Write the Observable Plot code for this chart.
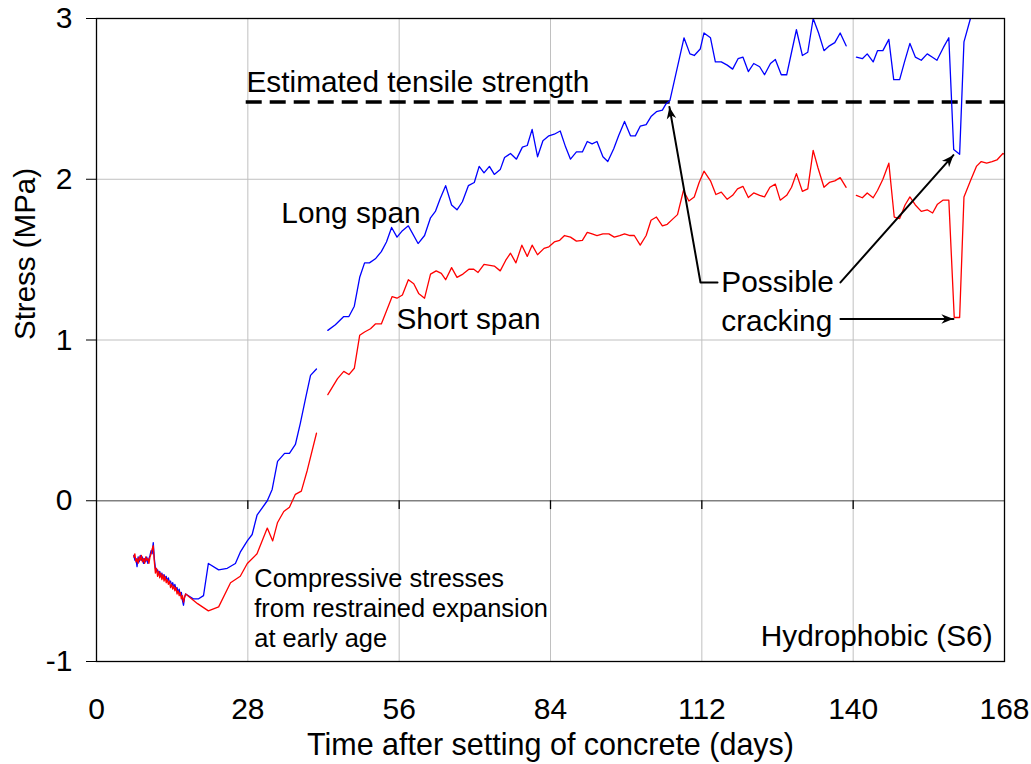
<!DOCTYPE html>
<html><head><meta charset="utf-8">
<script src="https://cdn.jsdelivr.net/npm/d3@7"></script>
<script src="https://cdn.jsdelivr.net/npm/@observablehq/plot@0.6"></script>
<style>body{margin:0;background:#fff;font-family:"Liberation Sans",Arial,sans-serif}</style>
</head><body><div id="chart"></div>
<script>
// ---- data ----
const xTicks = [0, 28, 56, 84, 112, 140, 168];
const yTicks = [-1, 0, 1, 2, 3];
const xLabel = "Time after setting of concrete (days)";
const yLabel = "Stress (MPa)";
const tensileStrength = 2.48;
const tensileStart = 27.7;

// [day, stress MPa]; NaN marks a gap in the record
const longSpan = [
[6.9,-0.34],[7.1,-0.37],[7.3,-0.36],[7.5,-0.41],[7.7,-0.35],[7.9,-0.38],[8.1,-0.34],[8.3,-0.37],[8.5,-0.35],[8.7,-0.39],
[8.9,-0.36],[9.1,-0.38],[9.3,-0.35],[9.5,-0.39],[9.7,-0.36],[9.9,-0.34],[10.1,-0.31],[10.3,-0.33],[10.5,-0.26],[10.7,-0.36],
[10.9,-0.42],[11.1,-0.44],[11.3,-0.43],[11.5,-0.46],[11.7,-0.44],[11.9,-0.47],[12.1,-0.45],[12.3,-0.48],[12.5,-0.46],[12.7,-0.49],
[12.9,-0.47],[13.1,-0.50],[13.3,-0.48],[13.5,-0.51],[13.7,-0.50],[13.9,-0.53],[14.1,-0.51],[14.3,-0.54],[14.5,-0.52],[14.7,-0.55],
[14.9,-0.54],[15.1,-0.57],[15.3,-0.55],[15.5,-0.59],[15.7,-0.57],[15.9,-0.62],[16.1,-0.65],[16.3,-0.60],[16.5,-0.58],
[17.9,-0.61],[18.9,-0.61],[19.8,-0.59],[20.7,-0.39],[22.6,-0.43],[24.2,-0.42],[25.7,-0.39],[26.6,-0.32],[27.9,-0.25],[28.8,-0.21],
[29.7,-0.09],[31.6,0.0],[32.5,0.07],[33.5,0.245],[34.8,0.295],[35.7,0.295],[36.8,0.35],[37.7,0.48],[38.7,0.64],[39.6,0.78],[40.7,0.82],
[41.7,NaN],
[42.8,1.06],[44.2,1.095],[45.75,1.146],[46.7,1.146],[47.7,1.21],[48.7,1.39],[49.6,1.48],[50.5,1.48],[51.6,1.505],[52.7,1.55],
[53.65,1.61],[54.6,1.70],[55.6,1.64],[56.6,1.68],[57.7,1.71],[59.5,1.60],[60.7,1.65],[61.8,1.76],[62.7,1.80],[63.6,1.88],
[64.6,1.96],[65.7,1.84],[66.7,1.81],[67.7,1.86],[68.8,1.96],[69.9,1.98],[70.8,2.08],[71.7,2.04],[72.7,2.08],[73.6,2.03],
[74.7,2.06],[75.5,2.135],[76.6,2.16],[77.7,2.125],[78.8,2.20],[79.7,2.21],[80.6,2.31],[81.6,2.14],[82.6,2.24],[83.7,2.27],
[84.7,2.28],[85.8,2.30],[86.8,2.20],[87.7,2.125],[88.8,2.17],[89.9,2.17],[90.8,2.235],[91.7,2.22],[92.6,2.235],[93.7,2.14],
[94.6,2.11],[95.7,2.19],[96.6,2.27],[97.7,2.36],[98.8,2.27],[99.7,2.27],[100.6,2.33],[101.7,2.34],[102.6,2.39],[103.6,2.42],
[104.7,2.43],[105.4,2.47],[106.1,2.49],[108.7,2.88],[109.8,2.78],[110.6,2.77],[111.7,2.81],[112.4,2.91],[113.6,2.88],[114.5,2.73],
[115.6,2.73],[116.7,2.71],[117.7,2.685],[118.7,2.75],[119.6,2.76],[120.6,2.67],[121.6,2.72],[122.7,2.70],[123.6,2.65],[124.7,2.72],
[125.6,2.745],[126.7,2.65],[127.7,2.65],[128.6,2.79],[129.5,2.93],[130.6,2.77],[131.6,2.79],[132.6,3.0],[133.6,2.91],[134.6,2.80],
[135.6,2.83],[136.6,2.85],[137.6,2.91],[138.7,2.83],
[139.6,NaN],
[140.6,2.76],[141.7,2.75],[142.6,2.78],[143.7,2.73],[144.5,2.80],[145.5,2.80],[146.6,2.87],[147.5,2.62],[148.6,2.62],[149.5,2.73],
[150.5,2.845],[151.5,2.76],[152.6,2.74],[153.7,2.78],[154.6,2.76],[155.5,2.74],[156.7,2.82],[157.7,2.88],[158.6,2.185],[159.7,2.155],
[160.5,2.855],[161.7,3.0]
];

const shortSpan = [
[6.9,-0.35],[7.1,-0.33],[7.3,-0.38],[7.5,-0.36],[7.7,-0.39],[7.9,-0.35],[8.1,-0.37],[8.3,-0.34],[8.5,-0.38],[8.7,-0.36],
[8.9,-0.39],[9.1,-0.35],[9.3,-0.37],[9.5,-0.36],[9.7,-0.39],[9.9,-0.35],[10.1,-0.33],[10.3,-0.30],[10.5,-0.28],[10.7,-0.38],
[10.9,-0.45],[11.1,-0.42],[11.3,-0.47],[11.5,-0.44],[11.7,-0.48],[11.9,-0.45],[12.1,-0.49],[12.3,-0.46],[12.5,-0.50],[12.7,-0.47],
[12.9,-0.51],[13.1,-0.49],[13.3,-0.52],[13.5,-0.50],[13.7,-0.54],[13.9,-0.52],[14.1,-0.55],[14.3,-0.53],[14.5,-0.56],[14.7,-0.54],
[14.9,-0.58],[15.1,-0.56],[15.3,-0.59],[15.5,-0.57],[15.7,-0.61],[15.9,-0.59],[16.1,-0.63],[16.3,-0.60],[16.5,-0.58],
[18.7,-0.64],[20.7,-0.685],[22.6,-0.66],[24.8,-0.51],[26.6,-0.47],[27.9,-0.39],[29.7,-0.33],[31.6,-0.17],[32.6,-0.25],[33.5,-0.135],
[34.65,-0.067],[35.7,-0.04],[36.8,0.04],[37.9,0.06],[39.0,0.19],[40.7,0.42],
[41.7,NaN],
[42.8,0.66],[44.6,0.76],[45.75,0.805],[46.7,0.785],[47.7,0.824],[48.7,1.03],[49.6,1.05],[50.7,1.07],[51.6,1.10],[52.7,1.10],
[53.65,1.18],[54.7,1.27],[55.6,1.26],[56.6,1.28],[57.7,1.375],[58.7,1.35],[59.6,1.29],[60.7,1.26],[61.8,1.41],[62.85,1.43],
[63.8,1.415],[64.6,1.375],[65.7,1.45],[66.7,1.39],[67.8,1.41],[68.9,1.44],[69.8,1.44],[70.6,1.42],[71.7,1.47],[73.6,1.46],
[74.7,1.43],[75.7,1.495],[76.6,1.54],[77.6,1.48],[78.7,1.59],[79.7,1.52],[80.6,1.59],[81.6,1.53],[82.8,1.57],[83.7,1.58],
[84.7,1.61],[85.7,1.62],[86.6,1.65],[87.7,1.64],[88.8,1.615],[89.9,1.62],[90.8,1.67],[91.7,1.66],[92.6,1.65],[93.7,1.66],
[94.8,1.66],[95.8,1.64],[96.8,1.65],[97.7,1.66],[98.7,1.65],[99.5,1.65],[100.6,1.59],[101.7,1.65],[102.6,1.745],[103.6,1.765],
[104.7,1.71],[105.6,1.72],[106.7,1.755],[107.5,1.78],[108.6,1.93],[109.6,1.865],[110.6,1.89],[111.5,1.98],[112.4,2.05],[113.6,1.99],
[114.6,1.905],[115.6,1.92],[116.7,1.875],[117.7,1.90],[118.6,1.94],[119.6,1.956],[120.6,1.886],[121.6,1.915],[122.7,1.90],[123.6,1.89],
[124.6,1.95],[125.6,1.97],[126.5,1.87],[127.7,1.90],[128.6,1.95],[129.5,2.035],[130.6,1.925],[131.6,1.94],[132.6,2.18],[133.5,2.07],
[134.6,1.95],[135.6,1.98],[136.6,1.99],[137.6,2.01],[138.7,1.95],
[139.6,NaN],
[140.6,1.90],[141.7,1.885],[142.6,1.915],[143.7,1.885],[144.5,1.93],[145.5,2.00],[146.6,2.10],[147.6,1.765],[148.6,1.755],[149.6,1.84],
[150.5,1.89],[151.5,1.84],[152.6,1.80],[153.7,1.81],[154.7,1.79],[155.6,1.845],[156.6,1.87],[157.7,1.87],[158.7,1.14],[159.7,1.14],
[160.5,1.89],[161.7,1.99],[162.8,2.08],[163.7,2.11],[164.7,2.10],[165.7,2.11],[166.6,2.12],[167.7,2.16],[168.2,2.155]
];

// annotation texts: [text, day, stress]
const largeLabels = [
  ["Estimated tensile strength", 27.75, 2.60],
  ["Long span", 34.2, 1.79],
  ["Short span", 55.5, 1.125],
  ["Possible", 115.6, 1.356],
  ["cracking", 115.6, 1.113]
];
const smallLabels = [
  ["Compressive stresses", 29.2, -0.486],
  ["from restrained expansion", 29.2, -0.673],
  ["at early age", 29.2, -0.86]
];
const cornerLabels = [
  ["Hydrophobic (S6)", 165.8, -0.847]
];
// leader lines with arrowheads: [id, day, stress]
const leaders = [
  [1, 114.9, 1.358], [1, 111.75, 1.358], [1, 106.0, 2.45],
  [2, 137.65, 1.358], [2, 158.55, 2.15],
  [3, 137.65, 1.131], [3, 158.55, 1.131]
];

// ---- chart ----
const toRows = (arr) => arr.map(([day, stress]) => ({day, stress}));
const font = '"Liberation Sans", Arial, sans-serif';
const txt = {x: d => d[1], y: d => d[2], text: d => d[0], lineAnchor: "middle", fill: "#000"};

const chart = Plot.plot({
  width: 1031, height: 764,
  marginLeft: 96, marginRight: 27, marginTop: 18, marginBottom: 103,
  style: {fontFamily: font, fontSize: "30px", color: "#000", background: "#fff", overflow: "visible"},
  x: {domain: [0, 168], ticks: xTicks, tickSize: 0, tickPadding: 36, label: null, tickFormat: d => String(d)},
  y: {domain: [-1, 3], ticks: yTicks, tickSize: 10, tickPadding: 14, label: null, tickFormat: d => String(d)},
  marks: [
    Plot.ruleX(xTicks.slice(1, -1), {stroke: "#c0c0c0", strokeWidth: 1}),
    Plot.ruleY(yTicks.filter(v => v > 0 && v < 3), {stroke: "#c0c0c0", strokeWidth: 1}),
    Plot.ruleY([0], {stroke: "#808080", strokeWidth: 1.5}),
    Plot.ruleX(xTicks.slice(1, -1), {y1: 0, y2: -0.055, stroke: "#000", strokeWidth: 1.3}),
    Plot.ruleY([tensileStrength], {x1: tensileStart, x2: 168, stroke: "#000", strokeWidth: 3.5, strokeDasharray: "16,8"}),
    Plot.line(toRows(longSpan), {x: "day", y: "stress", stroke: "#0000ff", strokeWidth: 1.3, clip: true}),
    Plot.line(toRows(shortSpan), {x: "day", y: "stress", stroke: "#ff0000", strokeWidth: 1.3, clip: true}),
    Plot.line(leaders, {x: d => d[1], y: d => d[2], z: d => d[0], stroke: "#000", strokeWidth: 2, markerEnd: "arrow"}),
    Plot.text(largeLabels, {...txt, textAnchor: "start", fontSize: 29.8}),
    Plot.text(smallLabels, {...txt, textAnchor: "start", fontSize: 25.4}),
    Plot.text(cornerLabels, {...txt, textAnchor: "end", fontSize: 29.8}),
    Plot.text([xLabel], {frameAnchor: "bottom", dy: 84, lineAnchor: "middle", fontSize: 30.5, fill: "#000"}),
    Plot.text([yLabel], {frameAnchor: "left", dx: -71, rotate: -90, lineAnchor: "middle", fontSize: 29.5, fill: "#000"}),
    Plot.frame({stroke: "#000", strokeWidth: 1.3})
  ]
});

// filled arrowheads
chart.querySelectorAll("marker").forEach(m => {
  m.setAttribute("viewBox", "-10 -5 10 10");
  m.setAttribute("markerWidth", "6");
  m.setAttribute("markerHeight", "6");
  m.setAttribute("refX", "0");
  m.setAttribute("refY", "0");
  m.setAttribute("fill", "#000");
  m.setAttribute("stroke", "none");
  m.innerHTML = "";
  const p = document.createElementNS("http://www.w3.org/2000/svg", "path");
  p.setAttribute("d", "M-10,-4L0,0L-10,4L-7,0Z");
  p.setAttribute("fill", "#000");
  m.appendChild(p);
});

document.getElementById("chart").appendChild(chart);
</script></body></html>
